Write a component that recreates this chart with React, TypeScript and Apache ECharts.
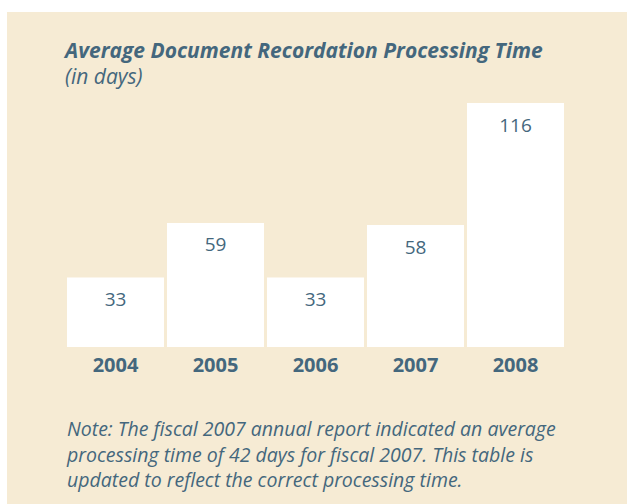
import React, { useEffect, useRef } from "react";
import * as echarts from "echarts";

const years = ["2004", "2005", "2006", "2007", "2008"];
const days = [33, 59, 33, 58, 116];
const titleText = "Average Document Recordation Processing Time";
const subtitleText = "(in days)";
const noteLines = [
  "Note: The fiscal 2007 annual report indicated an average",
  "processing time of 42 days for fiscal 2007. This table is",
  "updated to reflect the correct processing time.",
];

const TEXT = "#44677d";
const BG = "#f6ebd4";
const FONT = "'Open Sans', 'Noto Sans', sans-serif";

export default function App() {
  const ref = useRef<HTMLDivElement>(null);
  useEffect(() => {
    if (!ref.current) return;
    const chart = echarts.init(ref.current, undefined, { renderer: "svg" });
    chart.setOption({
      animation: false,
      backgroundColor: "#ffffff",
      graphic: [
        { type: "rect", z: -10, shape: { x: 7, y: 12, width: 640, height: 520 }, style: { fill: BG } },
        {
          type: "text",
          left: 65,
          top: 39,
          style: { text: titleText, fill: TEXT, font: `italic bold 21px ${FONT}` },
        },
        {
          type: "text",
          left: 65,
          top: 65,
          style: { text: subtitleText, fill: TEXT, font: `italic 21px ${FONT}` },
        },
        {
          type: "text",
          left: 67,
          top: 416,
          style: {
            text: noteLines.join("\n"),
            fill: TEXT,
            font: `italic 19.5px ${FONT}`,
            lineHeight: 25.5,
          },
        },
      ],
      grid: { left: 65.5, top: 94.6, width: 500, height: 252.4 },
      xAxis: {
        type: "category",
        data: years,
        axisLine: { show: false },
        axisTick: { show: false },
        axisLabel: { color: TEXT, fontFamily: FONT, fontWeight: "bold", fontSize: 20, margin: 7 },
      },
      yAxis: { type: "value", min: 0, max: 120, show: false, splitLine: { show: false } },
      series: [
        {
          type: "bar",
          data: days,
          barWidth: 97,
          itemStyle: { color: "#ffffff" },
          label: {
            show: true,
            position: "insideTop",
            distance: 12,
            color: TEXT,
            fontFamily: FONT,
            fontSize: 19,
          },
        },
      ],
    });
    return () => chart.dispose();
  }, []);
  return <div ref={ref} style={{ position: "fixed", left: 0, top: 0, width: 627, height: 504 }} />;
}
